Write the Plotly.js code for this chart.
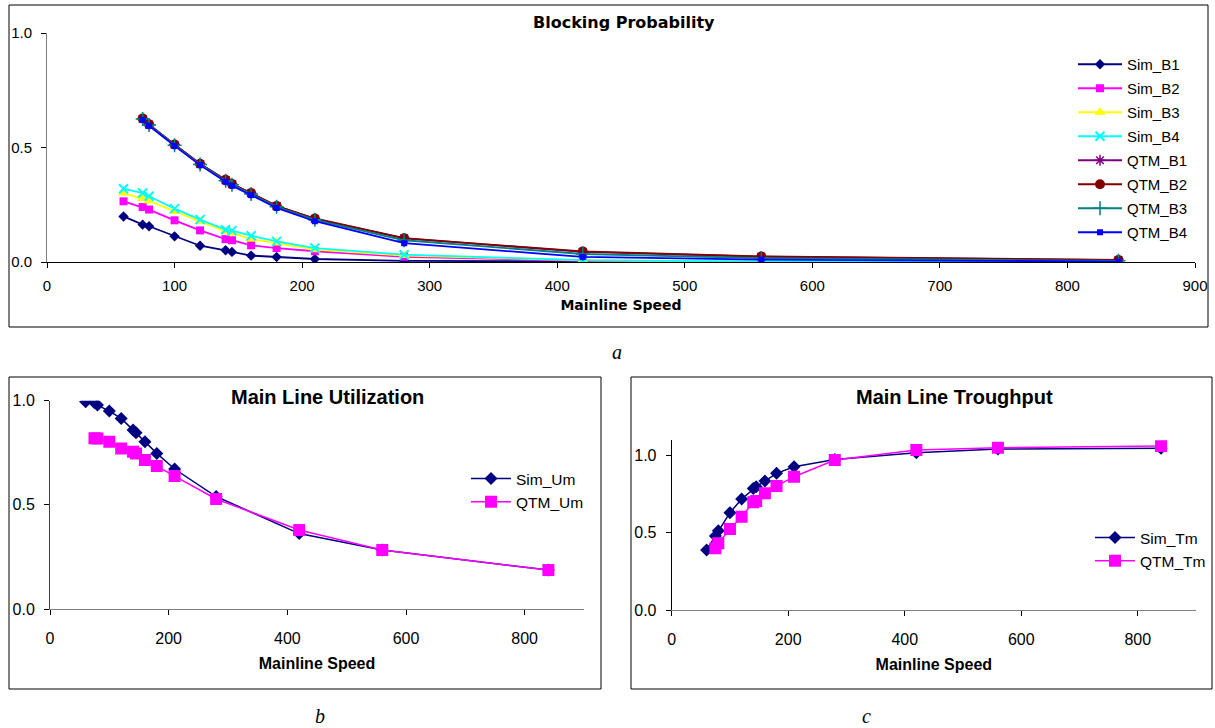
<!DOCTYPE html>
<html>
<head>
<meta charset="utf-8">
<script src="https://cdn.plot.ly/plotly-3.0.1.min.js"></script>
<style>html,body{margin:0;padding:0;background:#fff;}#chart{width:1215px;height:728px;}</style>
</head>
<body>
<div id="chart"></div>
<script>
// ---- data ----
const xSim = [60, 75, 80, 100, 120, 140, 145, 160, 180, 210, 280, 420, 560, 840];
const xQtm = [75, 80, 100, 120, 140, 145, 160, 180, 210, 280, 420, 560, 840];

const simB1 = [0.199, 0.163, 0.156, 0.112, 0.071, 0.051, 0.044, 0.028, 0.022, 0.013, 0.005, 0.001, 0.000, 0.000];
const simB2 = [0.265, 0.240, 0.229, 0.182, 0.138, 0.100, 0.095, 0.073, 0.061, 0.047, 0.023, 0.005, 0.002, 0.000];
const simB3 = [0.301, 0.277, 0.268, 0.221, 0.178, 0.134, 0.127, 0.100, 0.083, 0.054, 0.028, 0.007, 0.002, 0.000];
const simB4 = [0.320, 0.301, 0.287, 0.233, 0.185, 0.141, 0.137, 0.115, 0.090, 0.061, 0.032, 0.008, 0.002, 0.000];

const qtmB1 = [0.625, 0.600, 0.512, 0.428, 0.358, 0.340, 0.300, 0.244, 0.188, 0.103, 0.044, 0.023, 0.008];
const qtmB2 = [0.627, 0.601, 0.513, 0.429, 0.359, 0.341, 0.301, 0.245, 0.190, 0.104, 0.046, 0.024, 0.009];
const qtmB3 = [0.624, 0.598, 0.510, 0.426, 0.355, 0.337, 0.297, 0.241, 0.184, 0.095, 0.035, 0.017, 0.005];
const qtmB4 = [0.620, 0.595, 0.507, 0.423, 0.350, 0.333, 0.292, 0.236, 0.178, 0.082, 0.022, 0.010, 0.002];

const simUm = [0.995, 0.990, 0.979, 0.950, 0.915, 0.859, 0.846, 0.803, 0.747, 0.672, 0.540, 0.362, 0.283, 0.187];
const qtmUm = [0.820, 0.818, 0.803, 0.771, 0.755, 0.747, 0.715, 0.686, 0.638, 0.528, 0.379, 0.283, 0.187];

const simTm = [0.389, 0.480, 0.514, 0.631, 0.719, 0.788, 0.799, 0.836, 0.886, 0.929, 0.976, 1.019, 1.043, 1.048];
const qtmTm = [0.400, 0.432, 0.525, 0.605, 0.698, 0.706, 0.756, 0.803, 0.864, 0.972, 1.037, 1.052, 1.063];

const titleA = "Blocking Probability";
const titleB = "Main Line Utilization";
const titleC = "Main Line Troughput";
const xTitle = "Mainline Speed";

// ---- layout helpers ----
const W = 1215, H = 728;
const px = v => v / W;
const py = v => 1 - v / H;
const ARIAL = "Liberation Sans, Arial, sans-serif";
const WIDE = "DejaVu Sans, Verdana, sans-serif";
const SERIF = "Liberation Serif, Times New Roman, serif";

function tr(name, x, y, color, symbol, size, xa, ya, legend, extra) {
  const t = {
    type: "scatter", mode: "lines+markers", name: name, x: x, y: y,
    xaxis: xa, yaxis: ya, legend: legend, legendgroup: name,
    line: {color: color, width: 1.8},
    marker: {color: color, symbol: symbol, size: size, line: {color: color, width: 0}}
  };
  if (extra) Object.assign(t.marker, extra);
  return t;
}

const data = [
  tr("Sim_B1", xSim, simB1, "#000080", "diamond", 8, "x", "y", "legend"),
  tr("Sim_B2", xSim, simB2, "#FF00FF", "square", 8, "x", "y", "legend"),
  tr("Sim_B3", xSim, simB3, "#FFFF00", "triangle-up", 10, "x", "y", "legend"),
  tr("Sim_B4", xSim, simB4, "#00FFFF", "x-thin-open", 9, "x", "y", "legend", {line: {color: "#00FFFF", width: 2}}),
  tr("QTM_B1", xQtm, qtmB1, "#800080", "asterisk-open", 9, "x", "y", "legend", {line: {color: "#800080", width: 1.5}}),
  tr("QTM_B2", xQtm, qtmB2, "#800000", "circle", 10, "x", "y", "legend"),
  tr("QTM_B3", xQtm, qtmB3, "#008080", "cross-thin-open", 10, "x", "y", "legend", {line: {color: "#008080", width: 1.5}}),
  tr("QTM_B4", xQtm, qtmB4, "#0000FF", "square", 6, "x", "y", "legend"),

  tr("Sim_Um", xSim, simUm, "#000080", "diamond", 10, "x2", "y2", "legend2"),
  tr("QTM_Um", xQtm, qtmUm, "#FF00FF", "square", 12, "x2", "y2", "legend2"),

  tr("Sim_Tm", xSim, simTm, "#000080", "diamond", 10, "x3", "y3", "legend3"),
  tr("QTM_Tm", xQtm, qtmTm, "#FF00FF", "square", 12, "x3", "y3", "legend3")
];
data.forEach((t, i) => { if (i >= 8) t.line.width = 1.5; });

function xax(d0, d1, anchor, fs, standoff, titleFont, tstand) {
  return {
    domain: [px(d0), px(d1)], anchor: anchor, range: [0, 900],
    showgrid: false, zeroline: false, showline: true, linecolor: "#000", linewidth: 1,
    ticks: "outside", ticklen: 5, tickcolor: "#000", tickwidth: 1,
    tickfont: {family: ARIAL, size: fs, color: "#000"}, ticklabelstandoff: standoff,
    fixedrange: true,
    title: {text: xTitle, font: titleFont, standoff: tstand}
  };
}
function yax(b, t, anchor, fs, range, lc) {
  return {
    domain: [py(b), py(t)], anchor: anchor, range: range, dtick: 0.5, tick0: 0,
    tickformat: ".1f", showgrid: false, zeroline: false, showline: true,
    linecolor: lc, linewidth: 1, ticks: "outside", ticklen: 5, tickcolor: "#000",
    tickfont: {family: ARIAL, size: fs, color: "#000"}, ticklabelstandoff: 6, fixedrange: true
  };
}
function note(text, x, y, font) {
  return {text: text, xref: "paper", yref: "paper", x: px(x), y: py(y),
    xanchor: "center", yanchor: "middle", showarrow: false, font: font};
}

const layout = {
  width: W, height: H, autosize: false,
  margin: {l: 0, r: 0, t: 0, b: 0},
  paper_bgcolor: "#fff", plot_bgcolor: "rgba(0,0,0,0)",
  showlegend: true,
  xaxis: xax(47, 1195, "y", 15, 5, {family: WIDE, size: 14, weight: "bold", color: "#000"}, 7),
  yaxis: yax(262, 33, "x", 15, [0, 1], "#808080"),
  xaxis2: Object.assign(xax(50, 584, "y2", 16, 10, {family: ARIAL, size: 16, weight: "bold", color: "#000"}, 11), {dtick: 200, linecolor: "#808080"}),
  yaxis2: yax(609, 400.7, "x2", 16, [0, 1], "#404040"),
  xaxis3: Object.assign(xax(671.7, 1196, "y3", 16, 10, {family: ARIAL, size: 16, weight: "bold", color: "#000"}, 11), {dtick: 200, linecolor: "#808080"}),
  yaxis3: yax(610, 440.3, "x3", 16, [0, 1.1], "#000"),
  legend: {x: px(1073), y: py(48), xanchor: "left", yanchor: "top", bgcolor: "rgba(0,0,0,0)",
    font: {family: ARIAL, size: 15, color: "#000"}, itemwidth: 44, traceorder: "grouped", tracegroupgap: 1.5},
  legend2: {x: px(466), y: py(462), xanchor: "left", yanchor: "top", bgcolor: "rgba(0,0,0,0)",
    font: {family: ARIAL, size: 15.5, color: "#000"}, itemwidth: 40, traceorder: "grouped", tracegroupgap: 0},
  legend3: {x: px(1090), y: py(521), xanchor: "left", yanchor: "top", bgcolor: "rgba(0,0,0,0)",
    font: {family: ARIAL, size: 15.5, color: "#000"}, itemwidth: 40, traceorder: "grouped", tracegroupgap: 0},
  shapes: [
    {type: "rect", xref: "paper", yref: "paper", x0: px(9), x1: px(1208), y0: py(5), y1: py(327), line: {color: "#000", width: 1}},
    {type: "rect", xref: "paper", yref: "paper", x0: px(9), x1: px(601), y0: py(377), y1: py(689), line: {color: "#000", width: 1}},
    {type: "rect", xref: "paper", yref: "paper", x0: px(631), x1: px(1212), y0: py(377), y1: py(689), line: {color: "#000", width: 1}}
  ],
  annotations: [
    note(titleA, 624, 22, {family: WIDE, size: 16, weight: "bold", color: "#000"}),
    note(titleB, 327, 397, {family: ARIAL, size: 20, weight: "bold", color: "#000"}),
    note(titleC, 954, 397, {family: ARIAL, size: 20, weight: "bold", color: "#000"}),
    note("a", 617, 352, {family: SERIF, size: 20, style: "italic", color: "#000"}),
    note("b", 320, 716, {family: SERIF, size: 20, style: "italic", color: "#000"}),
    note("c", 866, 716, {family: SERIF, size: 20, style: "italic", color: "#000"})
  ]
};

Plotly.newPlot("chart", data, layout, {displayModeBar: false, staticPlot: true});
</script>
</body>
</html>
